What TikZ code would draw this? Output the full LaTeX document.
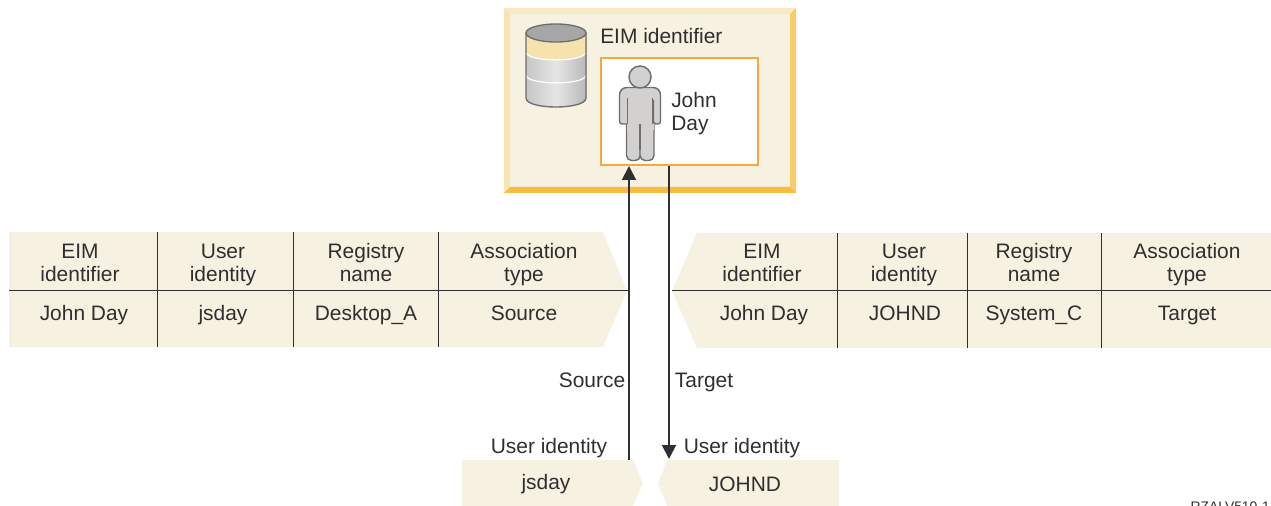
\documentclass[tikz,border=0pt]{standalone}
\usepackage{fontspec}
\setmainfont{Liberation Sans}
\usetikzlibrary{arrows.meta}
\definecolor{cream}{HTML}{F6F1E0}
\definecolor{ink}{HTML}{2F2F2F}
\definecolor{bevT}{HTML}{F9EAC4}
\definecolor{bevL}{HTML}{F9E5B2}
\definecolor{bevR}{HTML}{F9CC68}
\definecolor{bevB}{HTML}{F8BC40}
\definecolor{frameO}{HTML}{F5A83F}
\definecolor{grayF}{HTML}{D2D1D0}
\definecolor{grayD}{HTML}{6E6E6E}
\definecolor{band}{HTML}{F6E2AC}
\tikzset{
  lbl/.style={text=ink,font=\fontsize{15.7}{17.5}\selectfont,inner sep=0pt,align=center,
    execute at begin node=\strut,execute at end node=\strut},
  rowline/.style={draw=ink,line width=0.75pt},
  conn/.style={draw=ink,line width=1.4pt},
  tip/.style={-{Triangle[length=10.5pt,width=10.5pt]}},
  persona/.style={fill=grayF,draw=grayD,line width=1.1pt},
}
\begin{document}
\begin{tikzpicture}[x=0.75pt,y=-0.75pt]
\useasboundingbox (0,0) rectangle (1271,506);
% top frame
\fill[cream] (504,8) rectangle (796,193);
\fill[bevT] (504,8) -- (796,8) -- (790,14) -- (510,14) -- cycle;
\fill[bevL] (504,8) -- (510,14) -- (510,187) -- (504,193) -- cycle;
\fill[bevR] (796,8) -- (796,193) -- (790,187) -- (790,14) -- cycle;
\fill[bevB] (504,193) -- (796,193) -- (790,187) -- (510,187) -- cycle;
% cylinder
\fill[left color=gray!45,right color=gray!55,middle color=gray!20]
  (526,33) -- (526,98) .. controls (526,110) and (586,110) .. (586,98) -- (586,33) -- cycle;
\fill[band] (526,33) -- (526,52) .. controls (526,62.5) and (586,62.5) .. (586,52) -- (586,33) -- cycle;
\draw[white,line width=0.9pt] (526,52) .. controls (526,62.5) and (586,62.5) .. (586,52);
\draw[white,line width=0.9pt] (526,75) .. controls (526,85.5) and (586,85.5) .. (586,75);
\fill[gray!70] (556,33) ellipse[x radius=30,y radius=9];
\draw[grayD,line width=1pt] (526,33) -- (526,98) .. controls (526,110) and (586,110) .. (586,98) -- (586,33);
\draw[grayD,line width=1pt] (556,33) ellipse[x radius=30,y radius=9];
% inner box
\node[draw=frameO,fill=white,line width=1.5pt,minimum width=117.6pt,minimum height=80.6pt,inner sep=0pt,anchor=north west] (card) at (600,57) {};
% person
\draw[persona,rounded corners=3.8pt] (626.5,112) rectangle (640.3,160.5);
\draw[persona,rounded corners=3.8pt] (640,112) rectangle (654,160.5);
\fill[grayF] (627,110) rectangle (653.5,130);
\draw[persona] (627,124) [rounded corners=2pt] -- (619.5,124) [rounded corners=5.5pt] -- (619.5,87.5) -- (660.5,87.5) [rounded corners=2pt] -- (660.5,124) -- (653.5,124) [sharp corners] -- (653.5,100);
\fill[grayF] (628,100) rectangle (652.8,131);
\draw[grayD,line width=0.8pt] (627.5,98) -- (627.5,124) (652.5,98) -- (652.5,124) (640,124) -- (640,150);
\draw[persona] (640,77) circle[radius=11];
% tables
\fill[cream] (9,232) -- (603,232) -- (627,291) -- (603,347) -- (9,347) -- cycle;
\fill[cream] (672,291) -- (697,233) -- (1271,233) -- (1271,348) -- (697,348) -- cycle;
\coordinate (ltl) at (9,290.6); \coordinate (ltr) at (629,290.6);
\coordinate (rtl) at (672,290.6); \coordinate (rtr) at (1271,290.6);
\draw[rowline] (ltl) -- (ltr);
\draw[rowline] (rtl) -- (rtr);
\foreach \xx in {157.2,293.2,438.2} \draw[rowline] (\xx,232) -- (\xx,347);
\foreach \xx in {837.2,967.2,1101.2} \draw[rowline] (\xx,233) -- (\xx,348);
\node[lbl] (l1) at (80,266) {EIM\\identifier};
\node[lbl] (l2) at (223,266) {User\\identity};
\node[lbl] (l3) at (366,266) {Registry\\name};
\node[lbl] (l4) at (524,266) {Association\\type};
\node[lbl] (l5) at (84,315.5) {John Day};
\node[lbl] (l6) at (223,315.5) {jsday};
\node[lbl] (l7) at (366,315.5) {Desktop\_A};
\node[lbl] (l8) at (524,315.5) {Source};
\node[lbl] (r1) at (762,266) {EIM\\identifier};
\node[lbl] (r2) at (904,266) {User\\identity};
\node[lbl] (r3) at (1034,266) {Registry\\name};
\node[lbl] (r4) at (1187,266) {Association\\type};
\node[lbl] (r5) at (764,315.5) {John Day};
\node[lbl] (r6) at (905,315.5) {JOHND};
\node[lbl] (r7) at (1034,315.5) {System\_C};
\node[lbl] (r8) at (1187,315.5) {Target};
% bottom tags
\fill[cream] (462,460) -- (633,460) -- (643,483) -- (633,506) -- (462,506) -- cycle;
\fill[cream] (658,483) -- (667,460) -- (839,460) -- (839,506) -- (667,506) -- cycle;
\node[lbl] (js) at (546,484.6) {jsday};
\node[lbl] (jd) at (745,487) {JOHND};
\node[lbl] (ui1) at (549,449) {User identity};
\node[lbl] (ui2) at (742,449) {User identity};
\node[lbl] (src) at (592,383) {Source};
\node[lbl] (tgt) at (704,383) {Target};
% titles
\node[lbl,anchor=west] (eim) at (600,39) {EIM identifier};
\node[lbl,align=left,anchor=west] (jdn) at (671,115) {John\\Day};
\node[text=ink,font=\fontsize{10.4}{12}\selectfont,inner sep=0pt,anchor=north east] (code) at (1270,502) {RZALV510-1};
% connectors
\coordinate (upS) at (629,460); \coordinate (upE) at (629,166);
\coordinate (dnS) at (669,166); \coordinate (dnE) at (669,459);
\draw[conn,tip] (upS) -- (upE);
\draw[conn,tip] (dnS) -- (dnE);
\end{tikzpicture}
\end{document}
